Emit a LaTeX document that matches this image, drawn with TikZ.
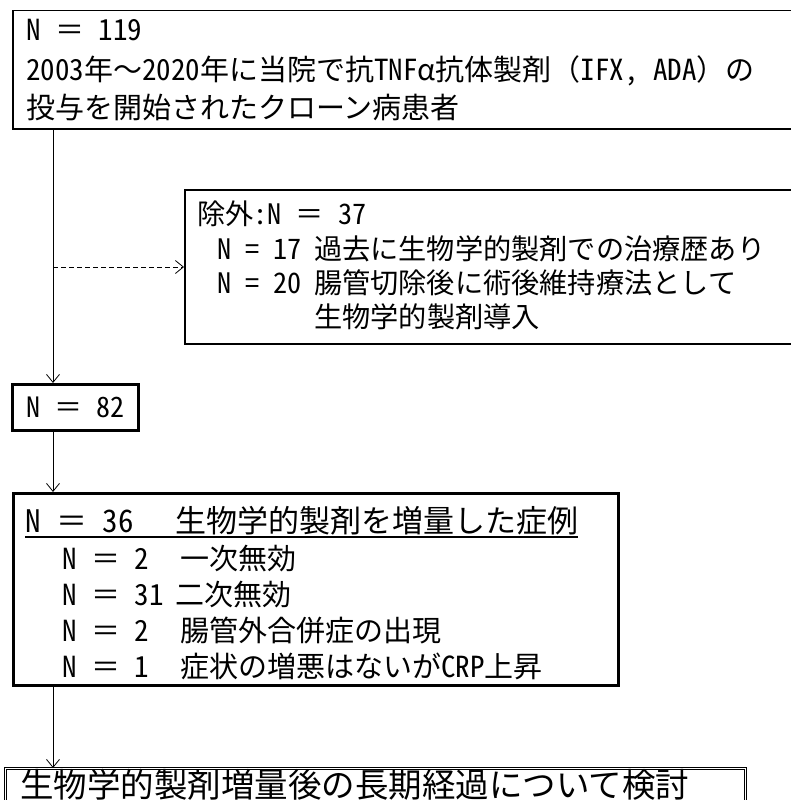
\documentclass[tikz,border=0pt]{standalone}
\usepackage{fontspec}
\setmainfont[RawFeature=+hwid]{Noto Sans CJK JP}
\newfontfamily\fw{Noto Sans CJK JP}
\usetikzlibrary{arrows.meta}
\begin{document}
\begin{tikzpicture}[x=1pt,y=-1pt,
  box/.style={draw,line width=1.5pt,inner sep=0pt,anchor=north west},
  thickbox/.style={draw,line width=3pt,inner sep=0pt,anchor=north west},
  dblbox/.style={draw,double,double distance=1.6pt,line width=0.8pt,inner sep=0pt,anchor=north west},
  txt/.style={anchor=base west,inner sep=0pt},
  conn/.style={line width=0.8pt,-{Straight Barb[length=8pt,width=13pt]}},
]
\useasboundingbox (0,0) rectangle (790,800);
\fill[white] (0,0) rectangle (790,800);

% boxes
\node[box,minimum width=800pt,minimum height=118pt] (b1) at (12,10) {};
\node[box,minimum width=630pt,minimum height=154pt] (b2) at (184,189) {};
\node[thickbox,minimum width=126pt,minimum height=46pt] (n82) at (11,383) {};
\node[thickbox,minimum width=605pt,minimum height=192pt] (b36) at (12,492) {};
\node[dblbox,minimum width=740pt,minimum height=60pt] (fin) at (5,768) {};

% texts box 1
\begin{scope}[every node/.append style={font=\fontsize{29}{35}\selectfont}]
\node[txt] (t1a) at (26,41) {N {\fw ＝} 119};
\node[txt] (t1b) at (26,81) {2003年{\fw ～}2020年に当院で抗TNF{\fw α}抗体製剤{\fw （}IFX, ADA{\fw ）}の};
\node[txt] (t1c) at (26,118) {投与を開始されたクローン病患者};
\end{scope}

% texts box 2
\begin{scope}[every node/.append style={font=\fontsize{28.2}{34}\selectfont}]
\node[txt] (t2a) at (197,224) {除外:N {\fw ＝} 37};
\node[txt] (t2b) at (217,259) {\makebox[97pt][l]{N = 17}過去に生物学的製剤での治療歴あり};
\node[txt] (t2c) at (217,293) {\makebox[97pt][l]{N = 20}腸管切除後に術後維持療法として};
\node[txt] (t2d) at (314,327) {生物学的製剤導入};
\end{scope}

% box 82
\node[txt,font=\fontsize{28}{34}\selectfont] (t82) at (26,417) {N {\fw ＝} 82};

% box 36
\node[txt,font=\fontsize{31}{37}\selectfont] (h36) at (25,532) {\makebox[150pt][l]{N {\fw ＝} 36}生物学的製剤を増量した症例};
\draw[line width=1.2pt] ([yshift=-5pt]h36.base west) -- ([yshift=-5pt]h36.base east);
\begin{scope}[every node/.append style={font=\fontsize{29}{35}\selectfont}]
\node[txt] (r1) at (62,569) {\makebox[118pt][l]{N {\fw ＝} 2}一次無効};
\node[txt] (r2) at (62,605) {\makebox[113pt][l]{N {\fw ＝} 31}二次無効};
\node[txt] (r3) at (62,641) {\makebox[118pt][l]{N {\fw ＝} 2}腸管外合併症の出現};
\node[txt] (r4) at (62,677) {\makebox[118pt][l]{N {\fw ＝} 1}症状の増悪はないがCRP上昇};
\end{scope}

% final
\node[txt,font=\fontsize{33.5}{40}\selectfont] (tf) at (20,797) {生物学的製剤増量後の長期経過について検討};

% connectors
\coordinate (spine) at (53,0);
\coordinate (dstart) at (53,267);
\draw[conn] (b1.south -| spine) -- (n82.north -| spine);
\draw[conn,dash pattern=on 5pt off 3pt] (dstart) -- (dstart -| b2.west);
\draw[conn] (n82.south -| spine) -- (b36.north -| spine);
\draw[conn] (b36.south -| spine) -- (fin.north -| spine);
\end{tikzpicture}
\end{document}
